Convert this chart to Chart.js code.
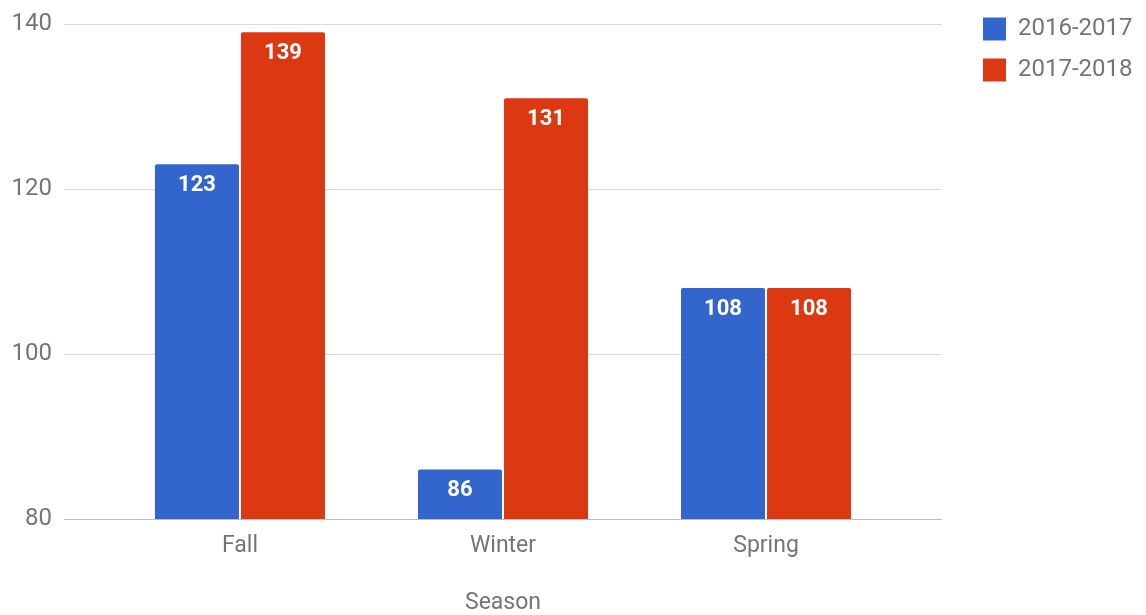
<!DOCTYPE html>
<html>
<head>
<meta charset="utf-8">
<script src="https://cdn.jsdelivr.net/npm/chart.js@4/dist/chart.umd.min.js"></script>
<style>
  html, body { margin: 0; padding: 0; background: #fff; }
  #wrap { width: 1146px; height: 615px; }
</style>
</head>
<body>
<div id="wrap"><canvas id="seasonChart"></canvas></div>
<script>
const seasons = ["Fall", "Winter", "Spring"];
const seriesNames = ["2016-2017", "2017-2018"];
const values1617 = [123, 86, 108];
const values1718 = [139, 131, 108];
const yTicks = [80, 100, 120, 140];

const BLUE = "#3366cc";
const RED = "#dc3912";
const GREY = "#757575";

const toPoints = (vals) => vals.map((v, i) => ({ x: i, y: v }));

// white value labels just under the top of each bar
const barLabels = {
  id: "barLabels",
  afterDatasetsDraw(chart) {
    const ctx = chart.ctx;
    ctx.save();
    ctx.font = "bold 22px Roboto";
    ctx.fillStyle = "#ffffff";
    ctx.textAlign = "center";
    ctx.textBaseline = "middle";
    chart.data.datasets.forEach((ds, di) => {
      chart.getDatasetMeta(di).data.forEach((bar, i) => {
        ctx.fillText(String(ds.data[i].y), bar.x, bar.y + 21);
      });
    });
    ctx.restore();
  }
};

// legend sits a bit further from the plot than chart.js puts it
const legendGap = {
  id: "legendGap",
  afterLayout(chart) {
    if (!chart.legend) return;
    chart.legend.left += 24;
    chart.legend.right += 24;
  }
};

new Chart(document.getElementById("seasonChart"), {
  type: "bar",
  data: {
    datasets: [
      { label: seriesNames[0], data: toPoints(values1617), backgroundColor: BLUE },
      { label: seriesNames[1], data: toPoints(values1718), backgroundColor: RED }
    ]
  },
  options: {
    responsive: true,
    maintainAspectRatio: false,
    animation: false,
    layout: { padding: 0 },
    datasets: {
      bar: {
        categoryPercentage: 0.654,
        barPercentage: 0.977,
        borderRadius: 2,
        borderSkipped: "bottom"
      }
    },
    scales: {
      x: {
        type: "linear",
        offset: false,
        min: -0.669,
        max: 2.669,
        grid: { display: false },
        border: { display: false },
        afterBuildTicks: scale => { scale.ticks = seasons.map((s, i) => ({ value: i })); },
        afterFit: scale => { scale.height = 96; scale.paddingRight = 204; },
        ticks: {
          padding: 5,
          color: GREY,
          font: { family: "Roboto", size: 23 },
          callback: value => seasons[value]
        },
        title: {
          display: true,
          text: "Season",
          color: GREY,
          font: { family: "Roboto", size: 23, lineHeight: 1 },
          padding: { top: 0, bottom: 0 }
        }
      },
      y: {
        min: 80,
        max: 140,
        border: { display: false },
        afterBuildTicks: scale => { scale.ticks = yTicks.map(v => ({ value: v })); },
        afterFit: scale => { scale.width = 64; scale.paddingTop = 24; },
        grid: {
          drawTicks: false,
          color: ctx => ctx.tick && ctx.tick.value === 80 ? "#bdbdbd" : "#d9d9d9"
        },
        ticks: {
          padding: 12,
          color: GREY,
          font: { family: "Roboto", size: 24 }
        }
      }
    },
    plugins: {
      legend: {
        position: "right",
        align: "start",
        labels: {
          boxWidth: 23,
          boxHeight: 23,
          padding: 17,
          color: GREY,
          font: { family: "Roboto", size: 24 }
        }
      },
      tooltip: { enabled: false }
    }
  },
  plugins: [barLabels, legendGap]
});
</script>
</body>
</html>
